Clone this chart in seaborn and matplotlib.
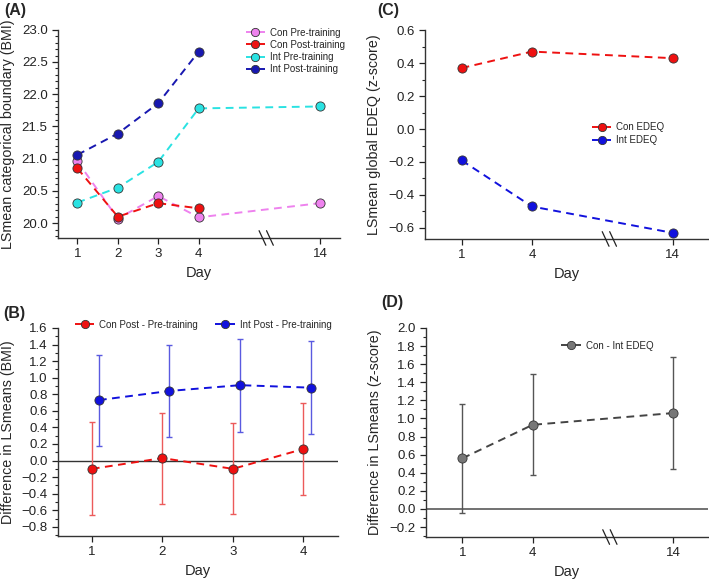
import matplotlib
matplotlib.use("Agg")
import matplotlib.pyplot as plt
from matplotlib.ticker import MultipleLocator, FuncFormatter
import seaborn as sns

# ---- data ----
days_a = [1, 2, 3, 4, 14]
con_pre = [20.96, 20.07, 20.42, 20.09, 20.31]
con_post = [20.85, 20.10, 20.31, 20.23]
int_pre = [20.32, 20.55, 20.95, 21.78, 21.81]
int_post = [21.06, 21.39, 21.86, 22.66]

days_b = [1, 2, 3, 4]
con_diff = [-0.10, 0.03, -0.10, 0.14]
con_diff_lo = [-0.66, -0.52, -0.65, -0.42]
con_diff_hi = [0.46, 0.58, 0.45, 0.70]
int_diff = [0.73, 0.84, 0.91, 0.88]
int_diff_lo = [0.18, 0.28, 0.35, 0.32]
int_diff_hi = [1.28, 1.40, 1.47, 1.44]

days_c = [1, 4, 14]
con_edeq = [0.37, 0.47, 0.43]
int_edeq = [-0.19, -0.47, -0.63]

edeq_diff = [0.56, 0.93, 1.06]
edeq_diff_lo = [-0.04, 0.37, 0.44]
edeq_diff_hi = [1.16, 1.49, 1.68]

# broken x axis: map days to plotting positions
pos_a = {1: 1, 2: 2, 3: 3, 4: 4, 14: 7}
pos_c = {1: 0, 4: 1, 14: 3}

sns.set_theme(style="ticks")
plt.rcParams['font.family'] = ['Liberation Sans', 'DejaVu Sans']
plt.rcParams['axes.linewidth'] = 1.0

fmt1 = FuncFormatter(lambda v, p: f"{v:.1f}".replace('-', '\u2212'))


def style_axes(ax, ylabel):
    sns.despine(ax=ax)
    ax.tick_params(axis='both', labelsize=9.5, length=4, width=0.9, direction='out', colors='#222222')
    ax.tick_params(axis='y', which='minor', length=2.5, width=0.8, left=True)
    ax.spines['left'].set_color('#333333')
    ax.spines['bottom'].set_color('#333333')
    ax.yaxis.set_minor_locator(MultipleLocator(0.1))
    ax.yaxis.set_major_formatter(fmt1)
    ax.set_xlabel("Day", fontsize=10.5, labelpad=4)
    ax.set_ylabel(ylabel, fontsize=10.3, labelpad=5)


def draw_break(ax, xpos):
    # small "\\" marks on the x axis
    y0, y1 = ax.get_ylim()
    h = (y1 - y0) * 0.035
    w = (ax.get_xlim()[1] - ax.get_xlim()[0]) * 0.012
    for dx in (-w * 1.1, w * 1.1):
        ax.plot([xpos + dx - w, xpos + dx + w], [y0 + h, y0 - h], color='#222222',
                lw=0.9, clip_on=False, zorder=5)


def dashed(ax, x, y, color, label, mfc=None):
    sns.lineplot(x=x, y=y, ax=ax, color=color, linestyle='--', linewidth=1.4,
                 marker='o', markersize=6.6, markerfacecolor=mfc or color,
                 markeredgecolor='#333333', markeredgewidth=0.6, label=label, zorder=3)
    ax.lines[-1].set_dashes([4, 2.8])


def errbars(ax, x, m, lo, hi, color):
    ax.errorbar(x, m, yerr=[[a - b for a, b in zip(m, lo)], [b - a for a, b in zip(m, hi)]],
                fmt='none', ecolor=color, elinewidth=1.0, capsize=2.3, capthick=1.0, zorder=2)


leg_kw = dict(frameon=False, fontsize=7, handlelength=2.0, handletextpad=0.5,
              borderpad=0, borderaxespad=0, markerscale=0.9)

fig = plt.figure(figsize=(7.09, 5.80), dpi=100)

# ---- (A) ----
ax_a = fig.add_axes([0.0818, 0.5897, 0.398, 0.359])
xa = [pos_a[d] for d in days_a]
dashed(ax_a, xa, con_pre, '#ee82ee', 'Con Pre-training')
dashed(ax_a, xa[:4], con_post, '#ee1111', 'Con Post-training')
dashed(ax_a, xa, int_pre, '#2ae2e2', 'Int Pre-training')
dashed(ax_a, xa[:4], int_post, '#1818b0', 'Int Post-training')
ax_a.set_xlim(0.52, 7.5)
ax_a.set_ylim(19.77, 23.0)
ax_a.set_xticks(xa)
ax_a.set_xticklabels([str(d) for d in days_a])
ax_a.yaxis.set_major_locator(MultipleLocator(0.5))
style_axes(ax_a, "LSmean categorical boundary (BMI)")
draw_break(ax_a, 5.67)
ax_a.legend(loc='upper left', bbox_to_anchor=(0.665, 1.01), labelspacing=0.22, **leg_kw)

# ---- (C) ----
ax_c = fig.add_axes([0.5994, 0.588, 0.399, 0.36])
xc = [pos_c[d] for d in days_c]
dashed(ax_c, xc, con_edeq, '#ee1111', 'Con EDEQ')
dashed(ax_c, xc, int_edeq, '#1111dd', 'Int EDEQ')
ax_c.set_xlim(-0.52, 3.5)
ax_c.set_ylim(-0.667, 0.6)
ax_c.set_xticks(xc)
ax_c.set_xticklabels([str(d) for d in days_c])
ax_c.yaxis.set_major_locator(MultipleLocator(0.2))
style_axes(ax_c, "LSmean global EDEQ (z-score)")
draw_break(ax_c, 2.1)
ax_c.legend(loc='upper left', bbox_to_anchor=(0.59, 0.56), labelspacing=0.3, **leg_kw)

# ---- (B) ----
ax_b = fig.add_axes([0.0818, 0.0759, 0.395, 0.3586])
ax_b.axhline(0, color='#333333', lw=1.0, zorder=1)
x_con = [pos_a[d] for d in days_b]
x_int = [pos_a[d] + 0.1 for d in days_b]
errbars(ax_b, x_con, con_diff, con_diff_lo, con_diff_hi, '#ec5a5a')
errbars(ax_b, x_int, int_diff, int_diff_lo, int_diff_hi, '#5a5ae0')
dashed(ax_b, x_con, con_diff, '#ee1111', 'Con Post - Pre-training')
dashed(ax_b, x_int, int_diff, '#1111dd', 'Int Post - Pre-training')
ax_b.set_xlim(0.52, 4.49)
ax_b.set_ylim(-0.91, 1.6)
ax_b.set_xticks(x_con)
ax_b.set_xticklabels([str(d) for d in days_b])
ax_b.yaxis.set_major_locator(MultipleLocator(0.2))
style_axes(ax_b, "Difference in LSmeans (BMI)")
ax_b.legend(loc='upper left', bbox_to_anchor=(0.06, 1.04), ncol=2, columnspacing=1.8, **leg_kw)

# ---- (D) ----
ax_d = fig.add_axes([0.6008, 0.0741, 0.398, 0.3604])
ax_d.axhline(0, color='#666666', lw=1.3, zorder=1)
xd = [pos_c[d] for d in days_c]
errbars(ax_d, xd, edeq_diff, edeq_diff_lo, edeq_diff_hi, '#555555')
dashed(ax_d, xd, edeq_diff, '#444444', 'Con - Int EDEQ', mfc='#777777')
ax_d.set_xlim(-0.52, 3.5)
ax_d.set_ylim(-0.31, 2.0)
ax_d.set_xticks(xd)
ax_d.set_xticklabels([str(d) for d in days_c])
ax_d.yaxis.set_major_locator(MultipleLocator(0.2))
style_axes(ax_d, "Difference in LSmeans (z-score)")
draw_break(ax_d, 2.1)
ax_d.legend(loc='upper left', bbox_to_anchor=(0.48, 0.94), **leg_kw)

# panel letters
for x, y, s in [(0.006, 0.995, "(A)"), (0.532, 0.995, "(C)"),
                (0.004, 0.472, "(B)"), (0.538, 0.492, "(D)")]:
    fig.text(x, y, s, fontsize=11.5, fontweight='bold', ha='left', va='top')

fig.savefig("out.png", dpi=100)
